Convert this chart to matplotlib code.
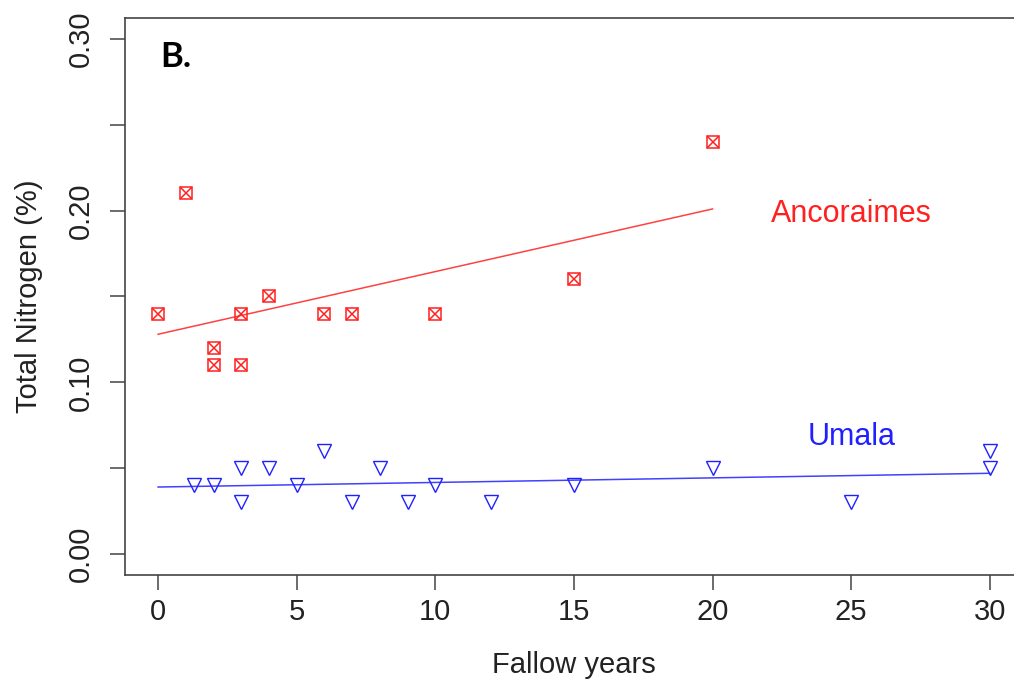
import numpy as np
import matplotlib.pyplot as plt

plt.rcParams['font.family'] = ['Liberation Sans', 'DejaVu Sans']

# Ancoraimes (red, square with X)
anc_years = [0, 1, 2, 2, 3, 3, 4, 6, 7, 10, 15, 20]
anc_n = [0.14, 0.21, 0.12, 0.11, 0.14, 0.11, 0.15, 0.14, 0.14, 0.14, 0.16, 0.24]
anc_fit_x = [0, 20]
anc_fit_y = [0.128, 0.201]

# Umala (blue, open down triangles)
uma_years = [1.3, 2, 3, 3, 4, 5, 6, 7, 8, 9, 10, 12, 15, 20, 25, 30, 30]
uma_n = [0.04, 0.04, 0.05, 0.03, 0.05, 0.04, 0.06, 0.03, 0.05, 0.03, 0.04,
         0.03, 0.04, 0.05, 0.03, 0.06, 0.05]
uma_fit_x = [0, 30]
uma_fit_y = [0.039, 0.047]

x_ticks = [0, 5, 10, 15, 20, 25, 30]
y_ticks = [0.00, 0.05, 0.10, 0.15, 0.20, 0.25, 0.30]
y_ticklabels = ['0.00', '', '0.10', '', '0.20', '', '0.30']

RED = '#ff2020'
BLUE = '#2020ff'
AXCOL = '#444444'

fig = plt.figure(figsize=(10.14, 6.92), dpi=100)
# plot region runs a bit past the right edge, as in the cropped original
ax = fig.add_axes([0.1231, 0.1697, 0.8858, 0.8037])

ax.plot(anc_fit_x, anc_fit_y, color=RED, lw=1.1, alpha=0.85)
ax.plot(uma_fit_x, uma_fit_y, color=BLUE, lw=1.1, alpha=0.85)

ax.plot(anc_years, anc_n, ls='none', marker='s', ms=9, mfc='none',
        mec=RED, mew=1.1)
ax.plot(anc_years, anc_n, ls='none', marker='x', ms=9, mec=RED, mew=1.1)
ax.plot(uma_years, uma_n, ls='none', marker='v', ms=10, mfc='none',
        mec=BLUE, mew=1.0)

ax.annotate('Ancoraimes', (25, 0.20), xytext=(0, -8.3),
            textcoords='offset points', ha='center', va='baseline',
            fontsize=22, color=RED)
ax.annotate('Umala', (25, 0.07), xytext=(0, -8.3),
            textcoords='offset points', ha='center', va='baseline',
            fontsize=22, color=BLUE)
ax.text(0.039, 0.9126, 'B.', transform=ax.transAxes, ha='left',
        va='baseline', fontsize=25, fontweight='bold', family='Lato')

ax.set_xlim(-1.2, 31.2)
ax.set_ylim(-0.012, 0.312)
ax.set_xticks(x_ticks)
ax.set_xticklabels([str(t) for t in x_ticks])
ax.set_yticks(y_ticks)
ax.set_yticklabels(y_ticklabels, rotation=90, va='center')

ax.tick_params(axis='both', length=10.8, width=1.1, color=AXCOL,
               labelsize=21, labelcolor='#222222')
ax.tick_params(axis='x', pad=6)
ax.tick_params(axis='y', pad=10.5)

for s in ['left', 'bottom', 'top', 'right']:
    ax.spines[s].set_color(AXCOL)
    ax.spines[s].set_linewidth(1.2)

ax.set_xlabel('Fallow years', fontsize=21, color='#222222')
ax.set_ylabel('Total Nitrogen (%)', fontsize=21, color='#222222')
ax.xaxis.set_label_coords(0.5, -0.137)
ax.yaxis.set_label_coords(-0.091, 0.5)

plt.savefig('out.png', dpi=100)
